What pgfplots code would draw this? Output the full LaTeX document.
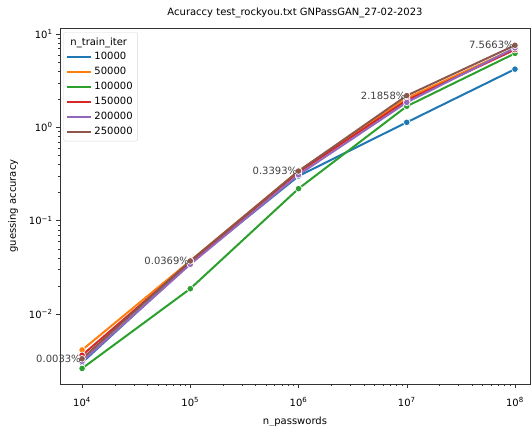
\documentclass[border=0pt]{standalone}
\usepackage{fontspec}
\setmainfont{DejaVu Sans}
\usepackage{pgfplots}
\pgfplotsset{compat=1.18}

\definecolor{c0}{HTML}{1F77B4}
\definecolor{c1}{HTML}{FF7F0E}
\definecolor{c2}{HTML}{2CA02C}
\definecolor{c3}{HTML}{D62728}
\definecolor{c4}{HTML}{9467BD}
\definecolor{c5}{HTML}{8C564B}

\pgfplotsset{
  ser/.style={line width=2pt, mark=*, mark size=3.3pt,
    mark options={fill=#1, draw=white, line width=0.7pt, solid}, color=#1},
}

\begin{document}
\begin{tikzpicture}
\begin{axis}[
    scale only axis,
    width=470pt, height=356pt,
    xmode=log, ymode=log,
    xmin=6252, xmax=1.377e8,
    ymin=0.00177, ymax=11.6,
    font=\fontsize{10}{12}\selectfont,
    title={Acuraccy test\_rockyou.txt GNPassGAN\_27-02-2023},
    title style={at={(axis description cs:0.5,1)}, anchor=base, yshift=6pt},
    xlabel={n\_passwords},
    xlabel style={at={(axis description cs:0.5,0)}, anchor=base, yshift=-41pt},
    ylabel={guessing accuracy},
    ylabel shift=4pt,
    xtick={1e4,1e5,1e6,1e7,1e8},
    xticklabels={10\textsuperscript{4},10\textsuperscript{5},10\textsuperscript{6},10\textsuperscript{7},10\textsuperscript{8}},
    xticklabel style={yshift=-6pt},
    ytick={0.01,0.1,1,10},
    yticklabels={10\textsuperscript{−2},10\textsuperscript{−1},10\textsuperscript{0},10\textsuperscript{1}},
    tick align=outside,
    tick pos=left,
    axis line style={black!80},
    major tick length=4pt,
    minor tick length=2.3pt,
    tick style={black!80},
    legend style={at={(0.007,0.988)}, anchor=north west, rounded corners=2pt,
      draw=black!15, fill=white, fill opacity=0.8, text opacity=1,
      font=\fontsize{10}{12}\selectfont, row sep=2pt, inner sep=3pt},
    legend cell align=left,
    legend image code/.code={\draw[#1, line width=2pt, draw opacity=1] (0pt,0pt) -- (24pt,0pt);},
]
\coordinate (bl) at (rel axis cs:0,0);
\coordinate (tr) at (rel axis cs:1,1);
\addlegendimage{empty legend}
\addlegendentry{\hspace{-24pt}n\_train\_iter}

\addplot[ser=c0] coordinates {(1e4,0.0030) (1e5,0.035) (1e6,0.30) (1e7,1.13) (1e8,4.2)};
\addlegendentry{10000}
\addplot[ser=c1] coordinates {(1e4,0.0041) (1e5,0.037) (1e6,0.34) (1e7,2.05) (1e8,7.0)};
\addlegendentry{50000}
\addplot[ser=c2] coordinates {(1e4,0.0026) (1e5,0.0186) (1e6,0.22) (1e7,1.68) (1e8,6.2)};
\addlegendentry{100000}
\addplot[ser=c3] coordinates {(1e4,0.0036) (1e5,0.036) (1e6,0.33) (1e7,1.95) (1e8,6.8)};
\addlegendentry{150000}
\addplot[ser=c4] coordinates {(1e4,0.0031) (1e5,0.034) (1e6,0.31) (1e7,1.85) (1e8,7.1)};
\addlegendentry{200000}
\addplot[ser=c5,
    point meta=explicit symbolic,
    nodes near coords,
    every node near coord/.style={anchor=east, text=black!75, inner sep=1pt,
      font=\fontsize{10}{12}\selectfont},
  ] coordinates {
    (1e4,0.0033)[0.0033\%]
    (1e5,0.0369)[0.0369\%]
    (1e6,0.3393)[0.3393\%]
    (1e7,2.1858)[2.1858\%]
    (1e8,7.5663)[7.5663\%]
  };
\addlegendentry{250000}
\end{axis}
\pgfresetboundingbox
\path[use as bounding box] ([xshift=-60pt,yshift=-42pt]bl) rectangle ([xshift=2pt,yshift=28pt]tr);
\end{tikzpicture}
\end{document}
